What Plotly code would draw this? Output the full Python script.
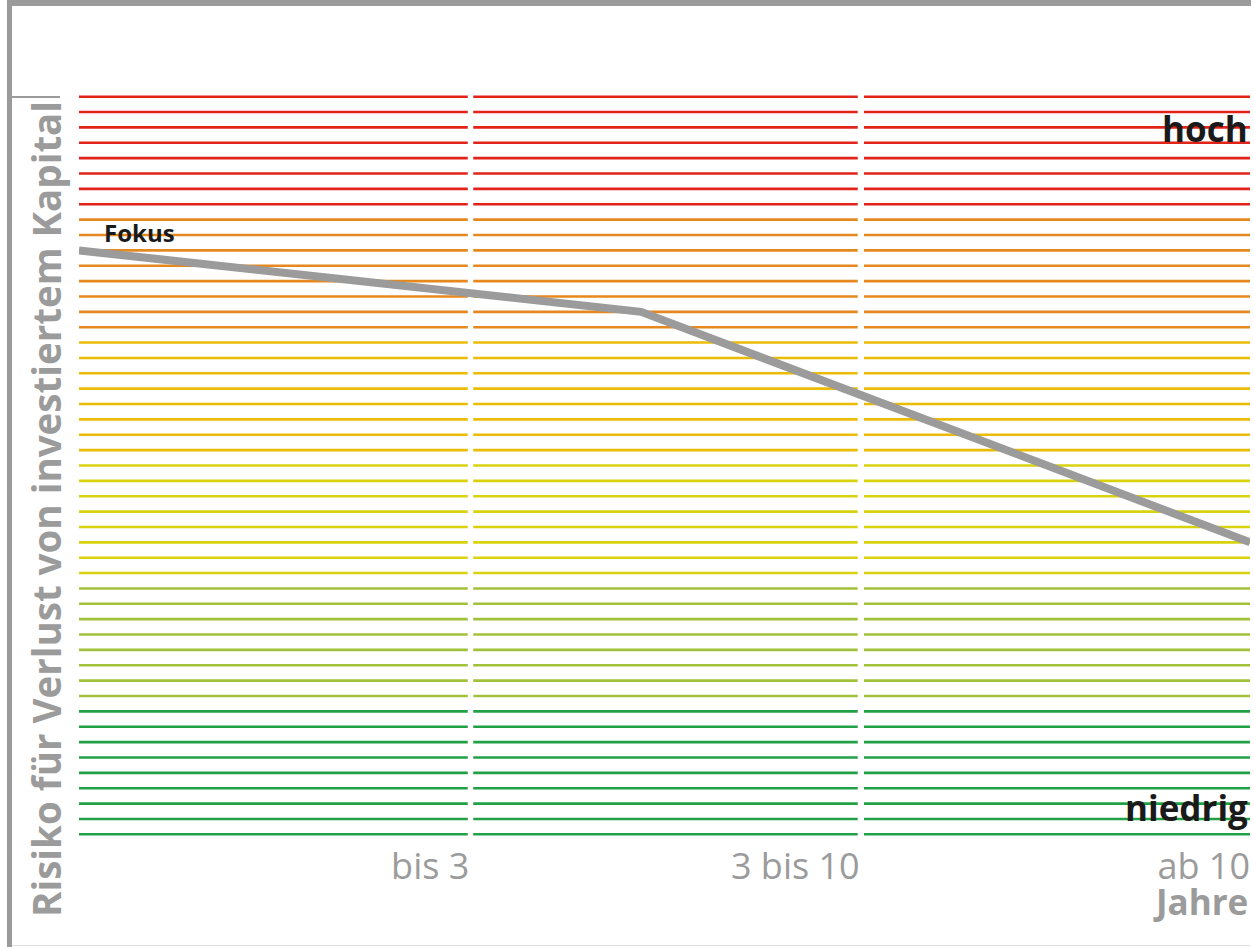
import plotly.graph_objects as go

# ---------------- data ----------------
categories = ["bis 3", "3 bis 10", "ab 10"]
category_ends = [1, 2, 3]

# risk band lines (index 0 = lowest risk, 48 = highest)
band_names = ["green", "lime", "yellow", "amber", "orange", "red"]
band_counts = [9, 8, 8, 8, 8, 8]
band_colors = ["#22A046", "#A2C13A", "#D9D20E", "#EBBC06", "#E5881F", "#E2231A"]

# Fokus risk line
focus_x = [0, 1.44, 3]
focus_y = [38, 34, 19]

y_title = "Risiko für Verlust von investiertem Kapital"
x_title = "Jahre"
label_high = "hoch"
label_low = "niedrig"
label_focus = "Fokus"

# ---------------- layout constants ----------------
W, H = 1254, 947
L, R, T, B = 79, 4, 89, 105
PW, PH = W - L - R, H - T - B
seg_bounds = [(0.0, 0.996), (1.010, 1.995), (2.011, 3.0)]
FONT = "Open Sans"
GRAY = "#9B9B9B"


def xp(px):
    return (px - L) / PW


def yp(py):
    return (H - B - py) / PH


fig = go.Figure()

level = 0
for name, n, col in zip(band_names, band_counts, band_colors):
    xs, ys = [], []
    for k in range(n):
        for a, b in seg_bounds:
            xs += [a, b, None]
            ys += [level, level, None]
        level += 1
    fig.add_trace(go.Scatter(x=xs, y=ys, mode="lines", name=name,
                             line=dict(color=col, width=2.6),
                             hoverinfo="skip", showlegend=False))

fig.add_trace(go.Scatter(x=focus_x, y=focus_y, mode="lines", name=label_focus,
                         line=dict(color=GRAY, width=8), showlegend=False))

n_levels = sum(band_counts)

annotations = [
    dict(text=f"<b>{label_focus}</b>", x=focus_x[0] + 0.06, y=focus_y[0] + 1.15,
         xref="x", yref="y", xanchor="left", yanchor="middle", showarrow=False,
         font=dict(family=FONT, size=24, color="#1A1A1A")),
    dict(text=f"<b>{label_high}</b>", x=3, y=n_levels - 3.1, xref="x", yref="y",
         xanchor="right", yanchor="middle", showarrow=False,
         font=dict(family=FONT, size=35, color="#1A1A1A")),
    dict(text=f"<b>{label_low}</b>", x=3, y=1.75, xref="x", yref="y",
         xanchor="right", yanchor="middle", showarrow=False,
         font=dict(family=FONT, size=35, color="#1A1A1A")),
    dict(text=f"<b>{x_title}</b>", x=1.0, y=yp(901), xref="paper", yref="paper",
         xanchor="right", yanchor="middle", showarrow=False,
         font=dict(family=FONT, size=35, color=GRAY)),
    dict(text=f"<b>{y_title}</b>", x=xp(46), y=yp(509), xref="paper", yref="paper",
         xanchor="center", yanchor="middle", textangle=-90, showarrow=False,
         font=dict(family=FONT, size=38.5, color=GRAY)),
]

shapes = [
    # top bar
    dict(type="rect", xref="paper", yref="paper", x0=xp(7), x1=xp(1251),
         y0=yp(6), y1=yp(0), line=dict(width=0), fillcolor=GRAY),
    # left bar
    dict(type="rect", xref="paper", yref="paper", x0=xp(7), x1=xp(12),
         y0=yp(947), y1=yp(0), line=dict(width=0), fillcolor=GRAY),
    # small marker at top of scale
    dict(type="line", xref="paper", yref="paper", x0=xp(12), x1=xp(60),
         y0=yp(97), y1=yp(97), line=dict(width=2, color=GRAY)),
    # bottom thin line
    dict(type="line", xref="paper", yref="paper", x0=xp(12), x1=xp(1250),
         y0=yp(945.5), y1=yp(945.5), line=dict(width=1, color="#DCDCDC")),
]

fig.update_layout(
    width=W, height=H,
    margin=dict(l=L, r=R, t=T, b=B, pad=0),
    paper_bgcolor="white", plot_bgcolor="white",
    showlegend=False,
    annotations=annotations,
    shapes=shapes,
    xaxis=dict(range=[0, 3], showgrid=False, zeroline=False, showline=False,
               tickvals=category_ends, ticktext=categories,
               ticklabelposition="outside left", ticks="",
               tickfont=dict(family=FONT, size=36, color=GRAY), fixedrange=True),
    yaxis=dict(range=[-0.5, n_levels - 0.5], showgrid=False, zeroline=False,
               showline=False, showticklabels=False, ticks="", fixedrange=True),
)

fig.write_html("out.html", config={"displayModeBar": False},
               post_script="document.body.style.margin='0';document.body.style.overflow='hidden';")
